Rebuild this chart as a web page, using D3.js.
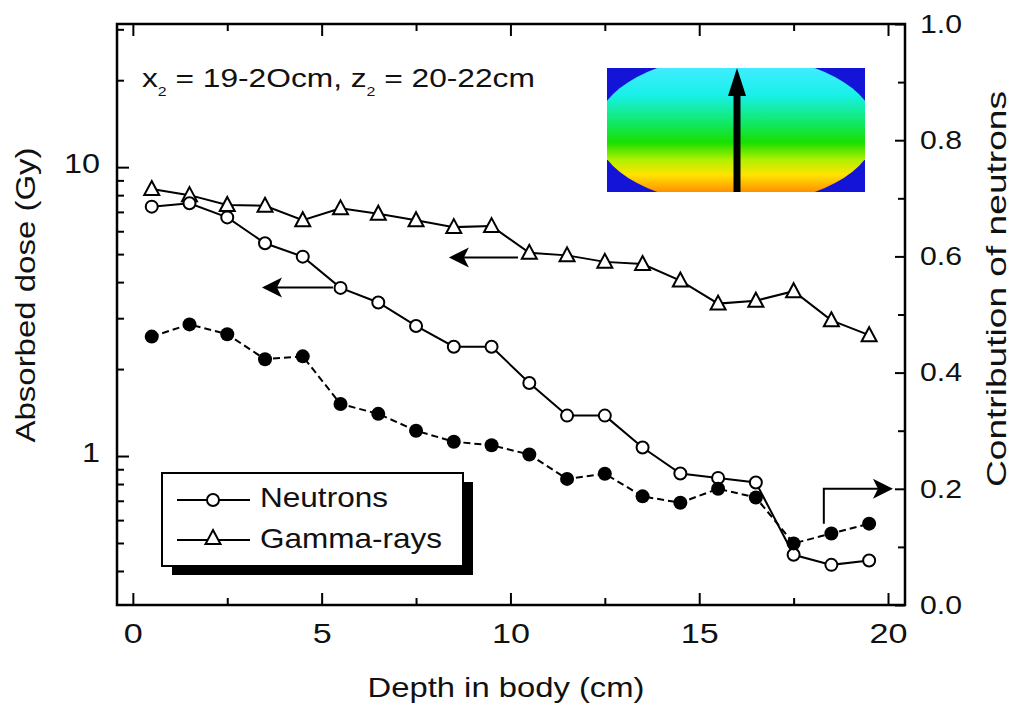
<!DOCTYPE html>
<html>
<head>
<meta charset="utf-8">
<script src="https://cdn.jsdelivr.net/npm/d3@7"></script>
<style>
  body { margin: 0; background: #fff; }
  text { font-family: "Liberation Sans", Arial, sans-serif; fill: #111; }
</style>
</head>
<body>
<div id="viz-container"></div>
<script>
let w = 1014;
let h = 705;

// depth in body (cm)
let depth = [0.5, 1.5, 2.5, 3.5, 4.5, 5.5, 6.5, 7.5, 8.5, 9.5, 10.5, 11.5, 12.5, 13.5, 14.5, 15.5, 16.5, 17.5, 18.5, 19.5];
// absorbed dose (Gy), left axis
let neutrons = [7.3, 7.5, 6.7, 5.45, 4.9, 3.82, 3.4, 2.82, 2.39, 2.39, 1.79, 1.38, 1.38, 1.07, 0.87, 0.84, 0.81, 0.455, 0.42, 0.435];
let gamma = [8.4, 8.0, 7.4, 7.35, 6.55, 7.2, 6.9, 6.55, 6.2, 6.25, 5.05, 4.95, 4.7, 4.62, 4.05, 3.37, 3.45, 3.72, 2.95, 2.62];
// contribution of neutrons, right axis
let contribution = [0.462, 0.483, 0.466, 0.423, 0.428, 0.346, 0.329, 0.30, 0.281, 0.275, 0.259, 0.217, 0.226, 0.187, 0.176, 0.200, 0.185, 0.106, 0.123, 0.140];

let xTicks = [0, 5, 10, 15, 20];
let xMinor = [2.5, 7.5, 12.5, 17.5];
let yTicks = [1, 10];
let yMinor = [0.4, 0.5, 0.6, 0.7, 0.8, 0.9, 2, 3, 4, 5, 6, 7, 8, 9, 20, 30];
let y2Ticks = [0, 0.2, 0.4, 0.6, 0.8, 1.0];
let y2Minor = [0.1, 0.3, 0.5, 0.7, 0.9];

let pLeft = 117, pRight = 905, pTop = 24, pBottom = 605;

let viz = d3.select("#viz-container")
  .append("svg")
    .attr("width", w)
    .attr("height", h)
    .style("background-color", "white");

let x = d3.scaleLinear().domain([-0.42, 20.45]).range([pLeft, pRight]);
let y = d3.scaleLog().domain([0.305, 31.3]).range([pBottom, pTop]);
let y2 = d3.scaleLinear().domain([0, 1]).range([pBottom, pTop]);

// inset picture of the body dose map
let defs = viz.append("defs");
let grad = defs.append("linearGradient")
  .attr("id", "heat")
  .attr("gradientUnits", "userSpaceOnUse")
  .attr("x1", 0).attr("y1", 68).attr("x2", 0).attr("y2", 192);
[[0, "#40ecff"], [0.22, "#18f0e8"], [0.45, "#10e860"], [0.6, "#18e000"], [0.74, "#b0f000"], [0.86, "#ffe400"], [1, "#ff9000"]]
  .forEach(function(s){
    grad.append("stop").attr("offset", s[0]).attr("stop-color", s[1]);
  });
defs.append("clipPath").attr("id", "insetClip")
  .append("rect").attr("x", 607).attr("y", 68).attr("width", 258).attr("height", 124);

let inset = viz.append("g").attr("clip-path", "url(#insetClip)");
inset.append("rect")
  .attr("x", 607).attr("y", 68).attr("width", 258).attr("height", 124)
  .attr("fill", "#1414d8");
inset.append("ellipse")
  .attr("cx", 736).attr("cy", 130).attr("rx", 140).attr("ry", 75)
  .attr("fill", "url(#heat)");
viz.append("line")
  .attr("x1", 737).attr("y1", 192).attr("x2", 737).attr("y2", 90)
  .attr("stroke", "black").attr("stroke-width", 7);
viz.append("path")
  .attr("d", "M737,68 L746,96 L728,96 Z")
  .attr("fill", "black");

// axes
function styleAxis(g){
  g.select(".domain").remove();
  g.selectAll(".tick line").attr("stroke", "black").attr("stroke-width", 2);
  g.selectAll(".tick text").style("font-size", "27px").attr("fill", "#111");
}

viz.append("g")
  .attr("transform", "translate(0," + pBottom + ")")
  .call(d3.axisBottom(x).tickValues(xTicks).tickSize(-12).tickPadding(19).tickFormat(d3.format("d")))
  .call(styleAxis)
  .selectAll(".tick text").attr("textLength", function(d){ return String(d).length * 19; })
  .attr("lengthAdjust", "spacingAndGlyphs");
viz.append("g")
  .attr("transform", "translate(0," + pBottom + ")")
  .call(d3.axisBottom(x).tickValues(xMinor).tickSize(-7).tickFormat(""))
  .call(styleAxis);
viz.append("g")
  .attr("transform", "translate(0," + pTop + ")")
  .call(d3.axisTop(x).tickValues(xTicks).tickSize(-12).tickFormat(""))
  .call(styleAxis);
viz.append("g")
  .attr("transform", "translate(0," + pTop + ")")
  .call(d3.axisTop(x).tickValues(xMinor).tickSize(-7).tickFormat(""))
  .call(styleAxis);

viz.append("g")
  .attr("transform", "translate(" + pLeft + ",0)")
  .call(d3.axisLeft(y).tickValues(yTicks).tickSize(-12).tickPadding(17).tickFormat(d3.format("d")))
  .call(styleAxis)
  .selectAll(".tick text").attr("textLength", function(d){ return String(d).length * 18; })
  .attr("lengthAdjust", "spacingAndGlyphs").attr("dy", "0.2em");
viz.append("g")
  .attr("transform", "translate(" + pLeft + ",0)")
  .call(d3.axisLeft(y).tickValues(yMinor).tickSize(-7).tickFormat(""))
  .call(styleAxis);

viz.append("g")
  .attr("transform", "translate(" + pRight + ",0)")
  .call(d3.axisRight(y2).tickValues(y2Ticks).tickSize(-10).tickPadding(15).tickFormat(d3.format(".1f")))
  .call(styleAxis)
  .selectAll(".tick text").attr("textLength", 42)
  .attr("lengthAdjust", "spacingAndGlyphs").style("font-size", "26px");
viz.append("g")
  .attr("transform", "translate(" + pRight + ",0)")
  .call(d3.axisRight(y2).tickValues(y2Minor).tickSize(-7).tickFormat(""))
  .call(styleAxis);

viz.append("rect")
  .attr("x", pLeft).attr("y", pTop)
  .attr("width", pRight - pLeft).attr("height", pBottom - pTop)
  .attr("fill", "none").attr("stroke", "black").attr("stroke-width", 2.5);

// axis titles
viz.append("text")
  .attr("x", 506).attr("y", 697)
  .attr("text-anchor", "middle")
  .attr("textLength", 277).attr("lengthAdjust", "spacingAndGlyphs")
  .style("font-size", "28px")
  .text("Depth in body (cm)");
viz.append("text")
  .attr("transform", "translate(35,295) rotate(-90)")
  .attr("text-anchor", "middle")
  .attr("textLength", 295).attr("lengthAdjust", "spacingAndGlyphs")
  .style("font-size", "28px")
  .text("Absorbed dose (Gy)");
viz.append("text")
  .attr("transform", "translate(1006,289) rotate(-90)")
  .attr("text-anchor", "middle")
  .attr("textLength", 396).attr("lengthAdjust", "spacingAndGlyphs")
  .style("font-size", "28px")
  .text("Contribution of neutrons");

// annotation text, stretched to the width it has in the figure
let note = viz.append("text").style("font-size", "26px");
note.append("tspan").text("x");
note.append("tspan").attr("dy", 9).style("font-size", "13px").text("2");
note.append("tspan").attr("dy", -9).text(" = 19-2Ocm, z");
note.append("tspan").attr("dy", 9).style("font-size", "13px").text("2");
note.append("tspan").attr("dy", -9).text(" = 20-22cm");
let noteW = note.node().getComputedTextLength();
note.attr("transform", "translate(142,87) scale(" + (393 / noteW) + ",1)");

// lines
let lineDose = function(vals){
  return d3.line().x(function(d, i){ return x(depth[i]); }).y(function(d){ return y(d); })(vals);
};
let lineContrib = d3.line()
  .x(function(d, i){ return x(depth[i]); })
  .y(function(d){ return y2(d); });

viz.append("path").attr("d", lineDose(gamma))
  .attr("fill", "none").attr("stroke", "black").attr("stroke-width", 2);
viz.append("path").attr("d", lineDose(neutrons))
  .attr("fill", "none").attr("stroke", "black").attr("stroke-width", 2);
viz.append("path").attr("d", lineContrib(contribution))
  .attr("fill", "none").attr("stroke", "black").attr("stroke-width", 2)
  .attr("stroke-dasharray", "7,4");

function triangle(cx, cy){
  return "M" + cx + "," + (cy - 8) + " L" + (cx + 7.5) + "," + (cy + 6) + " L" + (cx - 7.5) + "," + (cy + 6) + " Z";
}

viz.selectAll(".gam").data(gamma).enter()
  .append("path")
    .attr("class", "gam")
    .attr("d", function(d, i){ return triangle(x(depth[i]), y(d)); })
    .attr("fill", "white").attr("stroke", "black").attr("stroke-width", 2);

viz.selectAll(".neu").data(neutrons).enter()
  .append("circle")
    .attr("class", "neu")
    .attr("cx", function(d, i){ return x(depth[i]); })
    .attr("cy", function(d){ return y(d); })
    .attr("r", 6)
    .attr("fill", "white").attr("stroke", "black").attr("stroke-width", 2);

viz.selectAll(".con").data(contribution).enter()
  .append("circle")
    .attr("class", "con")
    .attr("cx", function(d, i){ return x(depth[i]); })
    .attr("cy", function(d){ return y2(d); })
    .attr("r", 7)
    .attr("fill", "black");

// arrows pointing to the axis each curve belongs to
function arrowLeft(x1, x2, yy){
  viz.append("line").attr("x1", x1).attr("y1", yy).attr("x2", x2 + 15).attr("y2", yy)
    .attr("stroke", "black").attr("stroke-width", 2);
  viz.append("path")
    .attr("d", "M" + x2 + "," + yy + " L" + (x2 + 20) + "," + (yy - 10) + " L" + (x2 + 15) + "," + yy + " L" + (x2 + 20) + "," + (yy + 10) + " Z")
    .attr("fill", "black");
}
arrowLeft(x(10.2), x(8.37), y(4.87));
arrowLeft(x(5.3), x(3.42), y(3.83));

let ax = x(18.3), ay0 = y2(0.14), ay1 = y2(0.2), axEnd = x(20.13);
viz.append("path")
  .attr("d", "M" + ax + "," + ay0 + " L" + ax + "," + ay1 + " L" + (axEnd - 15) + "," + ay1)
  .attr("fill", "none").attr("stroke", "black").attr("stroke-width", 2);
viz.append("path")
  .attr("d", "M" + axEnd + "," + ay1 + " L" + (axEnd - 20) + "," + (ay1 - 10) + " L" + (axEnd - 15) + "," + ay1 + " L" + (axEnd - 20) + "," + (ay1 + 10) + " Z")
  .attr("fill", "black");

// legend
let legend = viz.append("g");
legend.append("rect").attr("x", 172).attr("y", 482).attr("width", 301).attr("height", 93).attr("fill", "black");
legend.append("rect").attr("x", 162).attr("y", 473).attr("width", 301).attr("height", 93)
  .attr("fill", "white").attr("stroke", "black").attr("stroke-width", 2);
legend.append("line").attr("x1", 177).attr("x2", 250).attr("y1", 500).attr("y2", 500)
  .attr("stroke", "black").attr("stroke-width", 2);
legend.append("circle").attr("cx", 213).attr("cy", 500).attr("r", 6)
  .attr("fill", "white").attr("stroke", "black").attr("stroke-width", 2);
legend.append("line").attr("x1", 177).attr("x2", 250).attr("y1", 540).attr("y2", 540)
  .attr("stroke", "black").attr("stroke-width", 2);
legend.append("path").attr("d", triangle(213, 538))
  .attr("fill", "white").attr("stroke", "black").attr("stroke-width", 2);
legend.append("text").attr("x", 260).attr("y", 507)
  .attr("textLength", 128).attr("lengthAdjust", "spacingAndGlyphs")
  .style("font-size", "28px").text("Neutrons");
legend.append("text").attr("x", 260).attr("y", 548)
  .attr("textLength", 182).attr("lengthAdjust", "spacingAndGlyphs")
  .style("font-size", "28px").text("Gamma-rays");
</script>
</body>
</html>
